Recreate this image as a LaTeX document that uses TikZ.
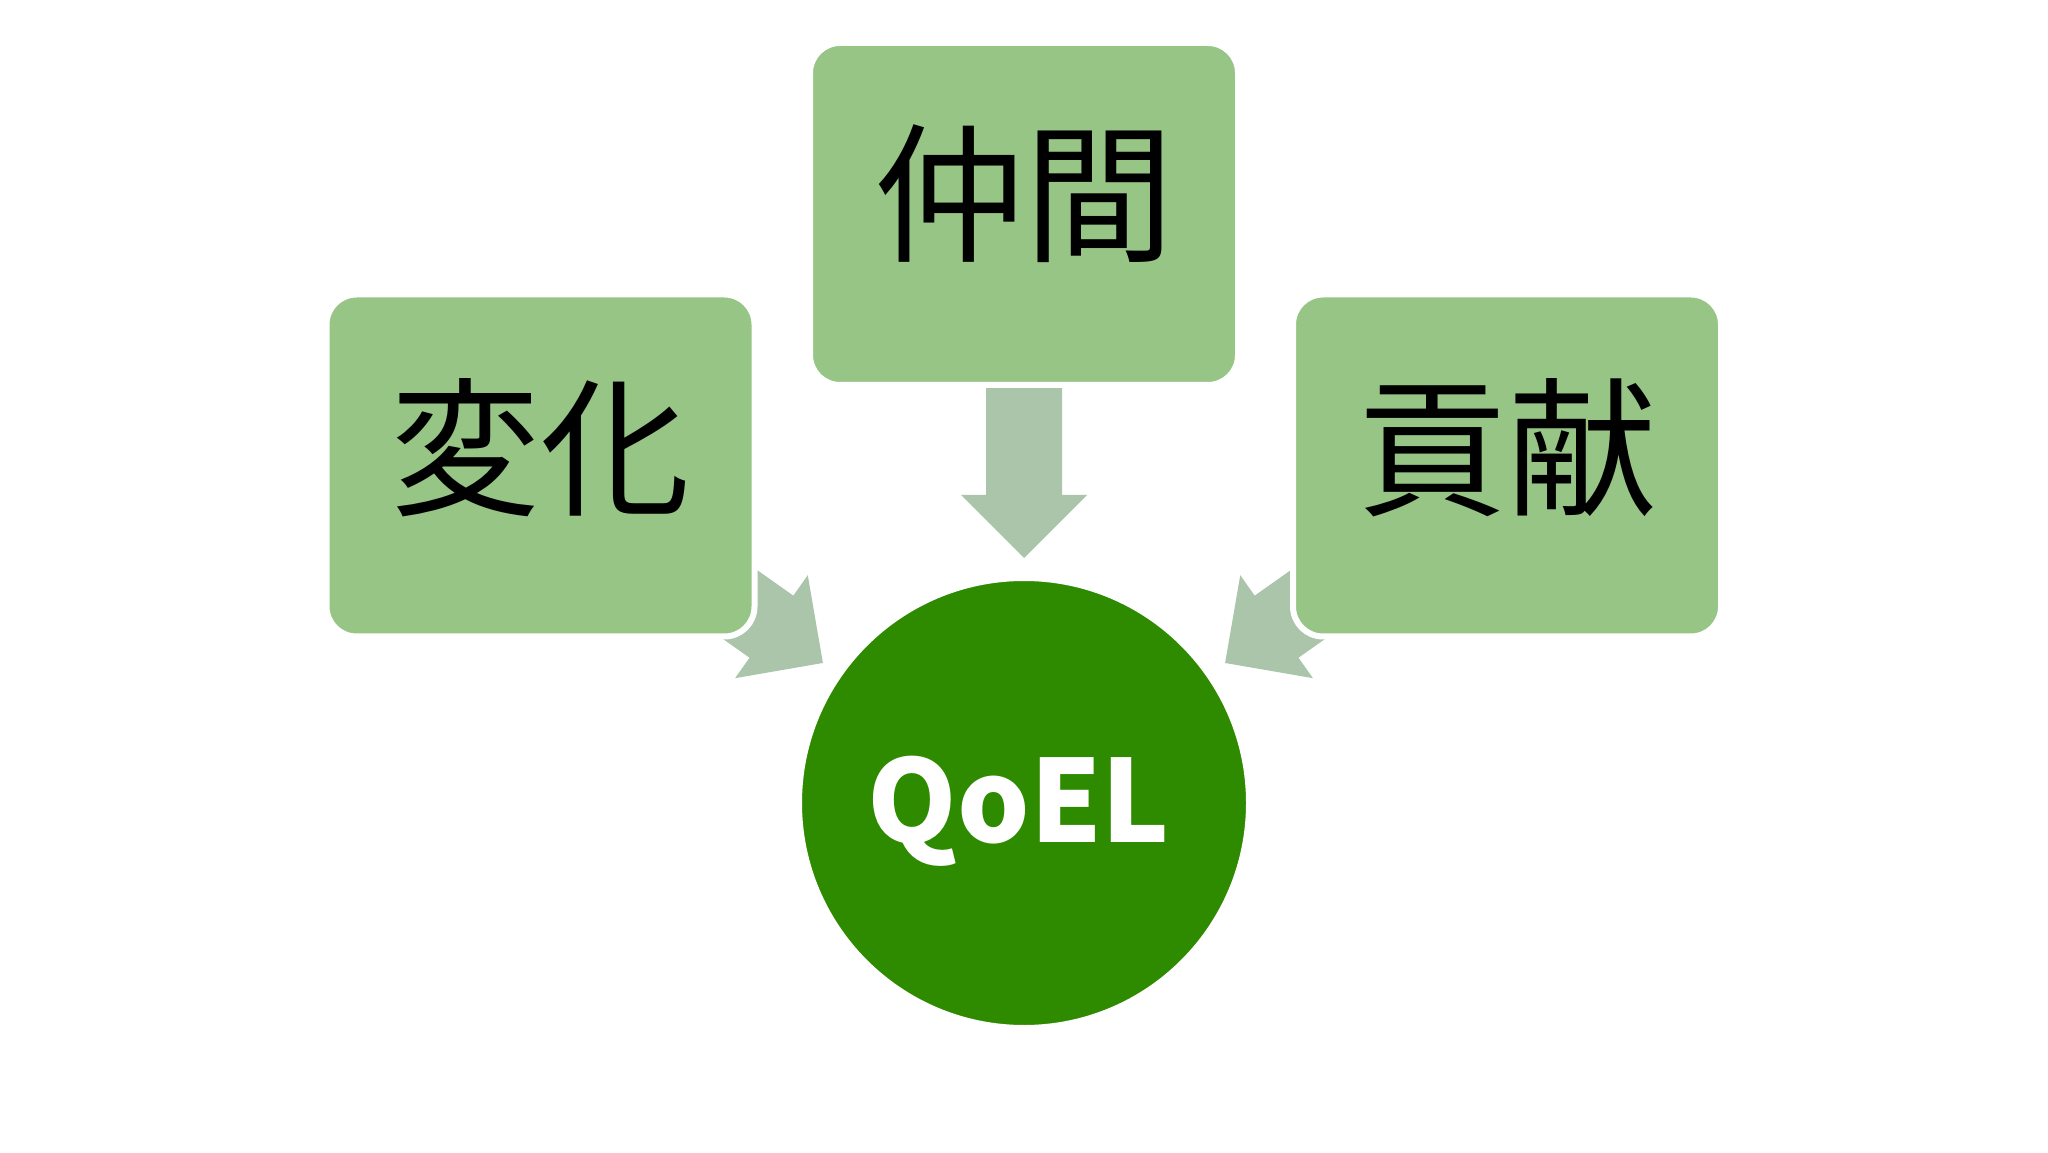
\documentclass[tikz,border=0pt]{standalone}
\usepackage{fontspec}
\newfontfamily\cjk{Noto Sans CJK JP}
\definecolor{boxgreen}{HTML}{97C586}
\definecolor{arrowgreen}{HTML}{ABC5AB}
\definecolor{hubgreen}{HTML}{2E8B00}
\begin{document}
\begin{tikzpicture}[x=0.5pt,y=0.5pt,
  box/.style={draw=white, line width=3pt, fill=boxgreen, rounded corners=15pt,
    minimum width=214pt, minimum height=171pt, inner sep=0pt},
  lbl/.style={font=\cjk\fontsize{75}{75}\selectfont, text=black, inner sep=0pt},
  hub/.style={circle, fill=hubgreen, draw=white, line width=3pt, minimum size=225pt, inner sep=0pt},
  hublbl/.style={font=\cjk\bfseries\fontsize{57}{57}\selectfont, text=white, inner sep=0pt},
  blockarrow/.pic={\fill[arrowgreen] (0,-38) -- (107,-38) -- (107,-63) -- (170,0)
     -- (107,63) -- (107,38) -- (0,38) -- cycle;}]
\fill[white] (0,0) rectangle (2048,1152);
\useasboundingbox (0,0) rectangle (2048,1152);
% arrows (behind boxes)
\pic[rotate=-90] at (1024,764) {blockarrow};
\pic[rotate=-35.2] at (684,587) {blockarrow};
\pic[rotate=-144.8] at (1364,587) {blockarrow};
% boxes
\node[box] (top) at (1024,938) {};
\node[box] (left) at (540.5,686.5) {};
\node[box] (right) at (1507,686.5) {};
\node[hub] (hub) at (1024,349) {};
% labels
\node[lbl] (toplbl) at ([yshift=10pt]top.center) {仲間};
\node[lbl] (leftlbl) at ([yshift=9pt]left.center) {変化};
\node[lbl] (rightlbl) at ([yshift=9pt]right.center) {貢献};
\node[hublbl, anchor=base] (hublabel) at (1019,310) {QoEL};
\end{tikzpicture}
\end{document}
